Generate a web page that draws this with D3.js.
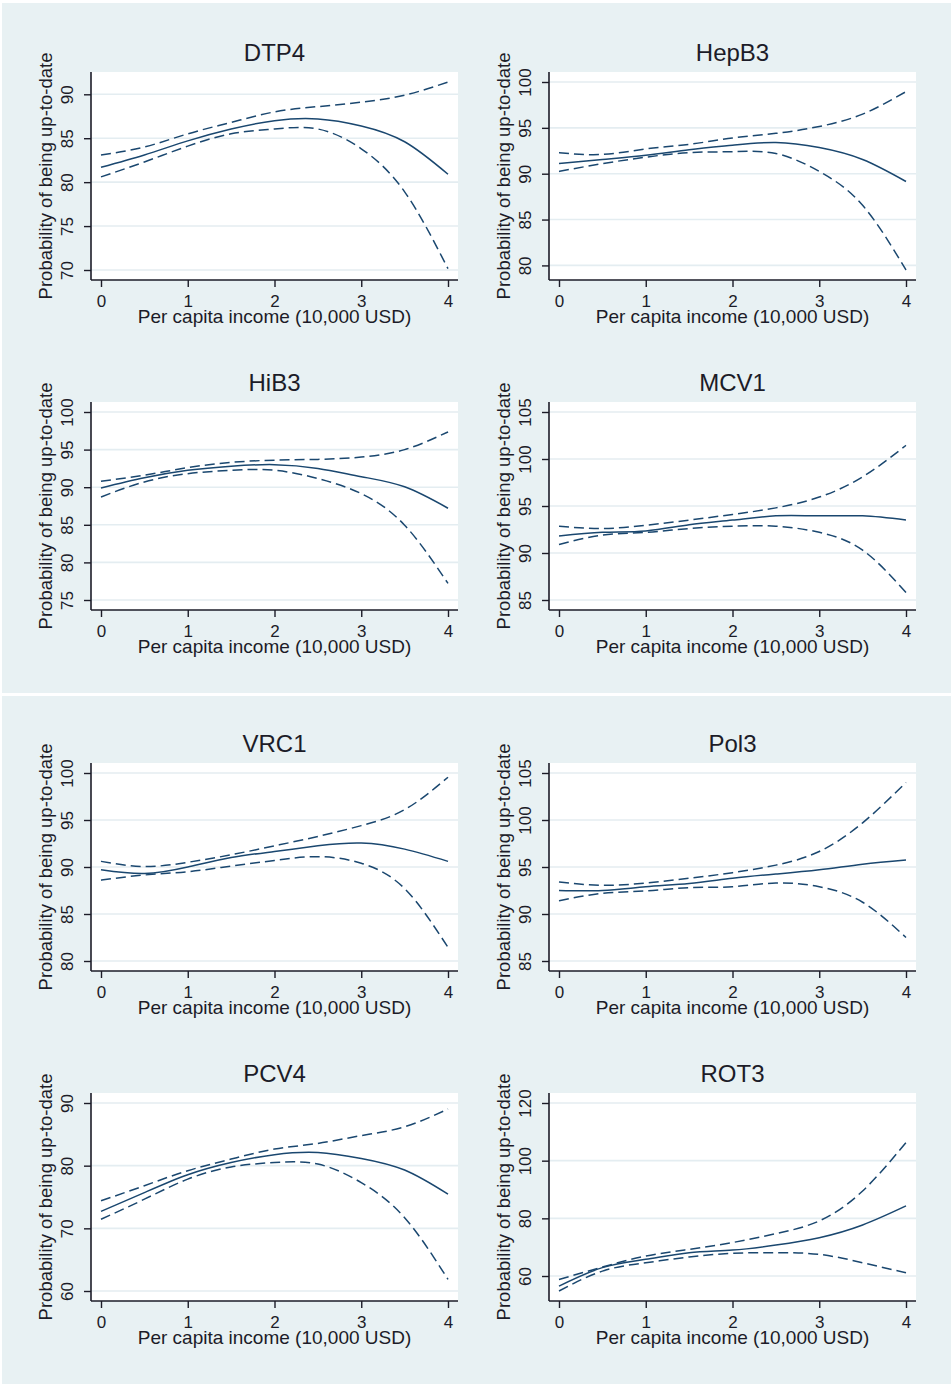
<!DOCTYPE html>
<html>
<head>
<meta charset="utf-8">
<script src="https://cdn.jsdelivr.net/npm/d3@7"></script>
<style>
  body { margin: 0; background: #fff; }
  svg { display: block; }
  text { font-family: "Liberation Sans", Arial, sans-serif; }
</style>
</head>
<body>
<svg id="chart"></svg>
<script>
// income grid (10,000 USD)
var incomes = [0, 0.5, 1, 1.5, 2, 2.5, 3, 3.5, 4];
var xTicks = [0, 1, 2, 3, 4];

var vaccines = ["DTP4", "HepB3", "HiB3", "MCV1", "VRC1", "Pol3", "PCV4", "ROT3"];

var dtp4Ticks = [70, 75, 80, 85, 90];
var dtp4Fit = [81.7, 83.1, 84.7, 86.05, 87.0, 87.2, 86.4, 84.6, 80.9];
var dtp4Hi  = [83.1, 84.0, 85.5, 86.8, 88.0, 88.6, 89.1, 89.9, 91.4];
var dtp4Lo  = [80.6, 82.3, 84.1, 85.5, 86.05, 86.05, 83.8, 78.9, 70.15];

var hepb3Ticks = [80, 85, 90, 95, 100];
var hepb3Fit = [91.1, 91.55, 92.0, 92.6, 93.1, 93.4, 92.85, 91.55, 89.15];
var hepb3Hi  = [92.3, 92.1, 92.7, 93.2, 93.9, 94.4, 95.15, 96.5, 98.95];
var hepb3Lo  = [90.25, 91.1, 91.8, 92.3, 92.4, 92.2, 90.25, 86.55, 79.5];

var hib3Ticks = [75, 80, 85, 90, 95, 100];
var hib3Fit = [89.9, 91.25, 92.25, 92.8, 93.0, 92.5, 91.4, 90.05, 87.2];
var hib3Hi  = [90.8, 91.6, 92.6, 93.3, 93.6, 93.7, 94.0, 95.0, 97.35];
var hib3Lo  = [88.7, 90.7, 91.8, 92.25, 92.25, 91.15, 89.15, 84.95, 77.2];

var mcv1Ticks = [85, 90, 95, 100, 105];
var mcv1Fit = [91.8, 92.2, 92.35, 93.0, 93.5, 93.95, 93.95, 93.95, 93.5];
var mcv1Hi  = [92.85, 92.6, 92.95, 93.5, 94.1, 94.8, 95.95, 98.1, 101.45];
var mcv1Lo  = [90.9, 91.9, 92.2, 92.6, 92.85, 92.85, 92.2, 90.3, 85.8];

var vrc1Ticks = [80, 85, 90, 95, 100];
var vrc1Fit = [89.7, 89.3, 90.0, 91.0, 91.65, 92.25, 92.55, 91.9, 90.6];
var vrc1Hi  = [90.6, 90.05, 90.5, 91.3, 92.25, 93.25, 94.4, 96.1, 99.55];
var vrc1Lo  = [88.6, 89.15, 89.5, 90.1, 90.7, 91.1, 90.4, 87.7, 81.45];

var pol3Ticks = [85, 90, 95, 100, 105];
var pol3Fit = [92.5, 92.5, 92.9, 93.25, 93.8, 94.25, 94.7, 95.3, 95.75];
var pol3Hi  = [93.4, 93.05, 93.3, 93.8, 94.4, 95.2, 96.65, 99.7, 104.0];
var pol3Lo  = [91.4, 92.2, 92.45, 92.8, 92.9, 93.3, 92.9, 91.25, 87.5];

var pcv4Ticks = [60, 70, 80, 90];
var pcv4Fit = [72.7, 75.7, 78.55, 80.5, 81.75, 82.1, 81.15, 79.3, 75.45];
var pcv4Hi  = [74.4, 76.8, 79.2, 81.05, 82.65, 83.55, 84.8, 86.2, 89.05];
var pcv4Lo  = [71.45, 74.65, 77.85, 79.8, 80.5, 80.25, 77.3, 71.7, 61.85];

var rot3Ticks = [60, 80, 100, 120];
var rot3Fit = [56.5, 62.9, 65.8, 68.1, 69.0, 70.75, 73.3, 77.7, 84.3];
var rot3Hi  = [58.8, 63.1, 66.9, 69.25, 71.6, 74.7, 79.1, 89.5, 106.3];
var rot3Lo  = [54.8, 61.7, 64.6, 66.6, 67.85, 68.1, 67.5, 64.6, 61.1];

var panels = [
  {name: vaccines[0], ticks: dtp4Ticks, fit: dtp4Fit, hi: dtp4Hi, lo: dtp4Lo},
  {name: vaccines[1], ticks: hepb3Ticks, fit: hepb3Fit, hi: hepb3Hi, lo: hepb3Lo},
  {name: vaccines[2], ticks: hib3Ticks, fit: hib3Fit, hi: hib3Hi, lo: hib3Lo},
  {name: vaccines[3], ticks: mcv1Ticks, fit: mcv1Fit, hi: mcv1Hi, lo: mcv1Lo},
  {name: vaccines[4], ticks: vrc1Ticks, fit: vrc1Fit, hi: vrc1Hi, lo: vrc1Lo},
  {name: vaccines[5], ticks: pol3Ticks, fit: pol3Fit, hi: pol3Hi, lo: pol3Lo},
  {name: vaccines[6], ticks: pcv4Ticks, fit: pcv4Fit, hi: pcv4Hi, lo: pcv4Lo},
  {name: vaccines[7], ticks: rot3Ticks, fit: rot3Fit, hi: rot3Hi, lo: rot3Lo}
];

var W = 951, H = 1384;
var bg = "#e8f1f3", grid = "#e4edf1", navy = "#1a476f", ink = "#1c1c28";
var plotW = 367, plotH = 208, pad = 10;
var colLeft = [91, 549];
var graphTop = [72, 763];   // two stacked Stata graphs, 2 rows each

var svg = d3.select("#chart").attr("width", W).attr("height", H);

svg.append("rect").attr("x", 2).attr("y", 3).attr("width", W - 2).attr("height", 690).attr("fill", bg);
svg.append("rect").attr("x", 2).attr("y", 696).attr("width", W - 2).attr("height", H - 696).attr("fill", bg);

panels.forEach(function(p, i) {
  var col = i % 2, row = Math.floor(i / 2);
  var left = colLeft[col];
  var top = graphTop[Math.floor(row / 2)] + (row % 2) * 330;
  var bottom = top + plotH, right = left + plotW;

  var all = p.ticks.concat(p.fit, p.hi, p.lo);
  var x = d3.scaleLinear().domain([0, 4]).range([left + pad, right - pad]);
  var y = d3.scaleLinear().domain(d3.extent(all)).range([bottom - pad, top + pad]);

  var g = svg.append("g");

  g.append("rect").attr("x", left).attr("y", top).attr("width", plotW).attr("height", plotH).attr("fill", "#fff");

  g.selectAll(".grid").data(p.ticks).enter().append("line")
    .attr("x1", left).attr("x2", right)
    .attr("y1", function(d) { return y(d); }).attr("y2", function(d) { return y(d); })
    .attr("stroke", grid).attr("stroke-width", 1.6);

  var line = d3.line()
    .x(function(d) { return x(d[0]); })
    .y(function(d) { return y(d[1]); })
    .curve(d3.curveNatural);

  [[p.hi, "10,5"], [p.lo, "10,5"], [p.fit, null]].forEach(function(s) {
    g.append("path")
      .datum(d3.zip(incomes, s[0]))
      .attr("d", line)
      .attr("fill", "none")
      .attr("stroke", navy)
      .attr("stroke-width", 1.5)
      .attr("stroke-dasharray", s[1]);
  });

  // y axis
  var ya = g.append("g").attr("transform", "translate(" + left + ",0)")
    .call(d3.axisLeft(y).tickValues(p.ticks).tickSize(7).tickSizeOuter(0));
  ya.select(".domain").remove();
  ya.selectAll("line").attr("stroke", ink).attr("stroke-width", 1.4);
  ya.selectAll("text")
    .attr("x", null).attr("dy", null)
    .attr("transform", "translate(-18,0) rotate(-90)")
    .attr("text-anchor", "middle")
    .attr("fill", ink)
    .style("font-size", "17px")
    .style("font-family", "'Liberation Sans', Arial, sans-serif");

  // x axis
  var xa = g.append("g").attr("transform", "translate(0," + bottom + ")")
    .call(d3.axisBottom(x).tickValues(xTicks).tickFormat(d3.format("d")).tickSize(7).tickPadding(8).tickSizeOuter(0));
  xa.select(".domain").remove();
  xa.selectAll("line").attr("stroke", ink).attr("stroke-width", 1.4);
  xa.selectAll("text")
    .attr("fill", ink)
    .style("font-size", "17px")
    .style("font-family", "'Liberation Sans', Arial, sans-serif");

  g.append("line").attr("x1", left).attr("x2", left).attr("y1", top).attr("y2", bottom)
    .attr("stroke", ink).attr("stroke-width", 1.6);
  g.append("line").attr("x1", left).attr("x2", right).attr("y1", bottom).attr("y2", bottom)
    .attr("stroke", ink).attr("stroke-width", 1.6);

  g.append("text")
    .attr("x", (left + right) / 2).attr("y", top - 11)
    .attr("text-anchor", "middle")
    .attr("fill", ink)
    .style("font-size", "24px")
    .text(p.name);

  g.append("text")
    .attr("x", (left + right) / 2).attr("y", bottom + 43)
    .attr("text-anchor", "middle")
    .attr("fill", ink)
    .style("font-size", "19px")
    .text("Per capita income (10,000 USD)");

  g.append("text")
    .attr("transform", "translate(" + (left - 39) + "," + ((top + bottom) / 2) + ") rotate(-90)")
    .attr("text-anchor", "middle")
    .attr("fill", ink)
    .style("font-size", "18.5px")
    .text("Probability of being up-to-date");
});
</script>
</body>
</html>
